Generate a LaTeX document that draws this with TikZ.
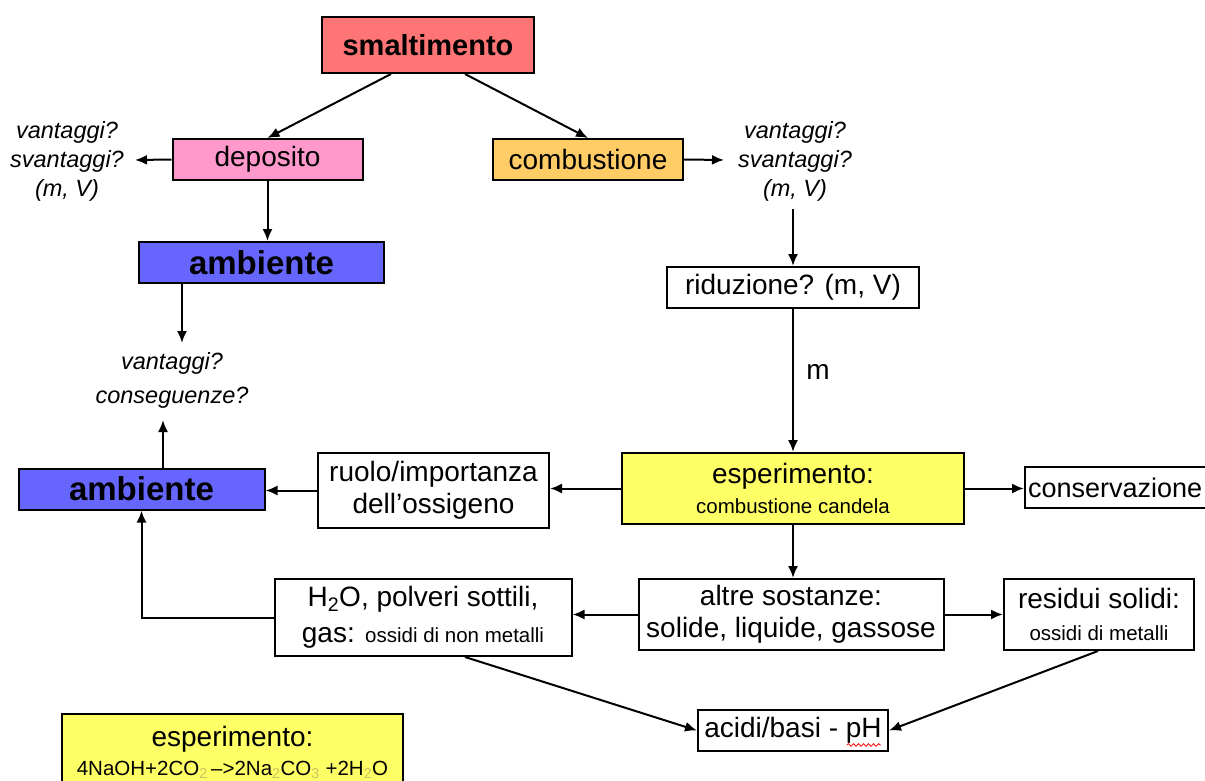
\documentclass[tikz,border=0pt]{standalone}
\usepackage{fontspec}
\setmainfont{Liberation Sans}
\usetikzlibrary{arrows.meta,decorations.pathmorphing}
\definecolor{smred}{RGB}{255,117,117}
\definecolor{deppink}{RGB}{255,153,204}
\definecolor{combor}{RGB}{255,204,102}
\definecolor{ambblue}{RGB}{102,102,255}
\definecolor{expyel}{RGB}{255,255,102}
\definecolor{subcol}{RGB}{205,195,90}
\newcommand\rgf{\fontsize{28}{32}\selectfont}
\newcommand\smf{\fontsize{20.5}{24}\selectfont}
\newcommand\itf{\fontsize{23.5}{29}\selectfont\itshape}
\newcommand\sbs[1]{\textsubscript{\color{subcol}#1}}
\tikzset{
  box/.style={draw, line width=2pt, inner sep=0pt, align=center, font=\rgf},
  arr/.style={-{Latex[length=12pt,width=10pt]}, line width=2pt},
  lbl/.style={align=center, inner sep=0pt, font=\itf},
  bigbold/.style={font=\fontsize{33}{36}\selectfont\bfseries},
}
\begin{document}
\begin{tikzpicture}[x=1pt,y=-1pt]
\useasboundingbox (0,0) rectangle (1205,781);
\fill[white] (0,0) rectangle (1205,781);
% nodes
\node[box, fill=smred, minimum width=212, minimum height=56, font=\fontsize{29}{32}\selectfont\bfseries] (smal) at (428,45) {smaltimento};
\node[box, fill=deppink, minimum width=190, minimum height=41] (dep) at (267.5,159.5) {deposito};
\node[box, fill=combor, minimum width=190, minimum height=41] (comb) at (588,159.5) {combustione};
\node[lbl] (lv) at (67,161) {vantaggi?\\svantaggi?\\(m, V)};
\node[lbl] (rv) at (795,161) {vantaggi?\\svantaggi?\\(m, V)};
\node[box, fill=ambblue, minimum width=245, minimum height=41, bigbold] (amb1) at (261.5,262.5) {ambiente};
\node[lbl, font=\fontsize{23.5}{34}\selectfont\itshape] (cons) at (172,380) {vantaggi?\\conseguenze?};
\node[box, minimum width=252, minimum height=41] (riduz) at (793,287.5) {riduzione? (m, V)};
\node[inner sep=0pt, font=\rgf] (mlab) at (818,372) {m};
\node[box, fill=expyel, minimum width=342, minimum height=71, font=\fontsize{28}{30}\selectfont] (esp1) at (793,488.5) {esperimento:\\{\smf combustione candela}};
\node[box, anchor=west, inner xsep=3pt, text width=192pt, align=left, minimum height=41, font=\fontsize{27}{32}\selectfont] (cons2) at (1024,487.5) {conservazione};
\node[box, minimum width=231, minimum height=75] (ruolo) at (433.5,490.5) {ruolo/importanza\\dell’ossigeno};
\node[box, fill=ambblue, minimum width=246, minimum height=41, bigbold] (amb2) at (141.5,489) {ambiente};
\node[box, minimum width=305, minimum height=71] (altre) at (791,614.5) {altre sostanze:\\solide, liquide, gassose};
\node[box, minimum width=190, minimum height=71] (resid) at (1099,614.5) {residui solidi:\\{\smf ossidi di metalli}};
\node[box, minimum width=297, minimum height=77, font=\fontsize{28}{36}\selectfont] (h2o) at (423,617.5) {H\textsubscript{2}O, polveri sottili,\\gas: {\smf ossidi di non metalli}};
\node[box, minimum width=190, minimum height=41] (acidi) at (793,730.5) {acidi/basi - pH};
\node[box, fill=expyel, minimum width=341, minimum height=76, font=\fontsize{28}{29}\selectfont] (esp2) at (232.5,752) {esperimento:\\{\fontsize{20.5}{24}\selectfont 4NaOH+2CO\sbs{2}\,–>2Na\sbs{2}CO\sbs{3} +2H\sbs{2}O}};
% free ends
\coordinate (lvend) at (135,160);
\coordinate (rvend) at (724,160);
\coordinate (rvstart) at (793,209);
\coordinate (consend) at (182,343);
\coordinate (consup) at (163,420);
% connectors
\draw[arr] ([xshift=-37]smal.south) -- (dep.north);
\draw[arr] ([xshift=37]smal.south) -- (comb.north);
\draw[arr] (dep.west) -- (lvend);
\draw[arr] (dep.south) -- (dep.south |- amb1.north);
\draw[arr] ([xshift=-79.5]amb1.south) -- (consend);
\draw[arr] (comb.east) -- (rvend);
\draw[arr] (rvstart) -- (riduz.north);
\draw[arr] (riduz.south) -- (esp1.north);
\draw[arr] (esp1.east) -- (esp1.east -| cons2.west);
\draw[arr] (esp1.west) -- (esp1.west -| ruolo.east);
\draw[arr] (ruolo.west) -- (ruolo.west -| amb2.east);
\draw[arr] ([xshift=21.5]amb2.north) -- (consup);
\draw[arr] (esp1.south) -- (esp1.south |- altre.north);
\draw[arr] (altre.east) -- (altre.east -| resid.west);
\draw[arr] (altre.west) -- (altre.west -| h2o.east);
\draw[arr] (h2o.west) -| (amb2.south);
\draw[arr] ([xshift=42]h2o.south) -- (acidi.west);
\draw[arr] ([xshift=-1]resid.south) -- (acidi.east);
% spell-check wave under pH
\draw[red, line width=0.8pt, decorate, decoration={snake, amplitude=1.3pt, segment length=5pt}] (847,745) -- (881,745);
\end{tikzpicture}
\end{document}
